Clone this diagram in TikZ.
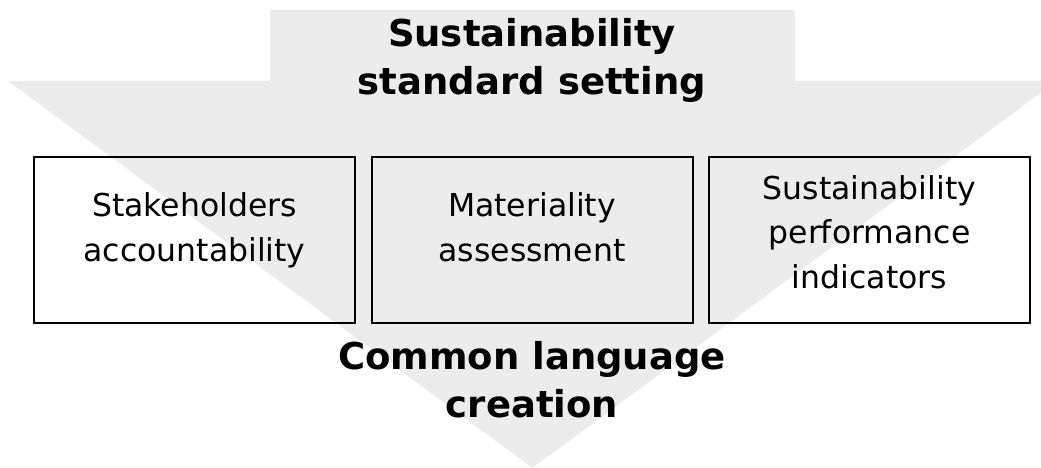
\documentclass[tikz,border=0pt]{standalone}
\usepackage{fontspec}
\setmainfont{DejaVu Sans}
\definecolor{arrowgray}{HTML}{ECECEC}
\tikzset{
  stdbox/.style={draw=black, line width=2pt, minimum width=321pt, minimum height=166pt, inner sep=0pt},
  boxtext/.style={align=center, anchor=base, inner sep=0pt, font=\fontsize{31.5}{44.5}\selectfont},
  headtext/.style={align=center, anchor=base, inner sep=0pt, font=\fontsize{37}{48}\selectfont\bfseries},
}
\begin{document}
\begin{tikzpicture}[x=1pt,y=-1pt]
\useasboundingbox (0,0) rectangle (1041,468);
\begin{scope}
\clip (0,0) rectangle (1041,468);
\fill[arrowgray] (270,10) -- (795,10) -- (795,81) -- (1057,81) -- (532.5,468) -- (8,81) -- (270,81) -- cycle;
\end{scope}
\node[stdbox] (b1) at (194.5,240) {};
\node[stdbox] (b2) at (532,240) {};
\node[stdbox] (b3) at (869.5,240) {};
\node[headtext] (title) at (532,95) {Sustainability\\standard setting};
\node[boxtext] (t1) at (194.5,261) {Stakeholders\\accountability};
\node[boxtext] (t2) at (532,261) {Materiality\\assessment};
\node[boxtext] (t3) at (869.5,288) {Sustainability\\performance\\indicators};
\node[headtext] (bottom) at (532,417) {Common language\\creation};
\end{tikzpicture}
\end{document}
